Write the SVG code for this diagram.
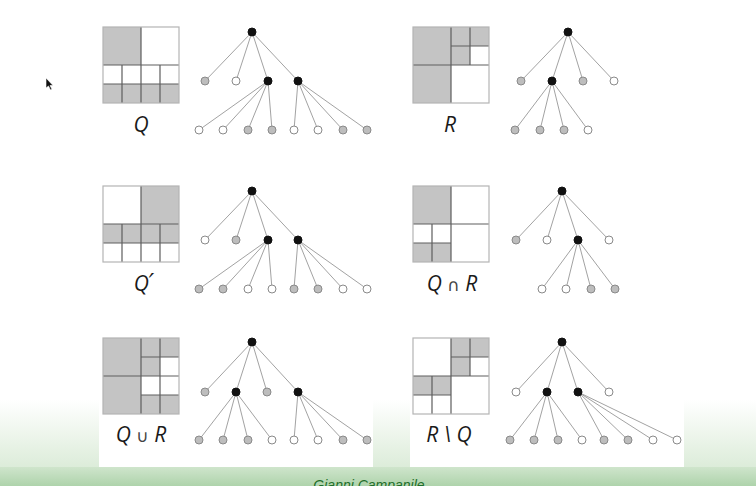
<svg xmlns="http://www.w3.org/2000/svg" width="756" height="486" viewBox="0 0 756 486">
<style>
.e{stroke:#8a8a8a;stroke-width:0.8;fill:none}
.nw{fill:#fff;stroke:#8a8a8a;stroke-width:1}
.ng{fill:#bdbdbd;stroke:#8a8a8a;stroke-width:1}
.nb{fill:#111;stroke:#111;stroke-width:1}
.cg{fill:#c4c4c4}
.cw{fill:#fff}
.gl{stroke:#5e5e5e;stroke-width:1.2;fill:none}
.ob{stroke:#b4b4b4;stroke-width:1.2;fill:none}
.lbl{font-family:"Open Sans","DejaVu Sans",sans-serif;font-style:italic;font-size:21px;fill:#1a1a1a;text-anchor:middle}
.op{font-family:"DejaVu Sans",sans-serif;font-style:normal;font-size:17px;fill:#444}
</style>
<defs>
<linearGradient id="bg" x1="0" y1="0" x2="0" y2="1">
<stop offset="0" stop-color="#ffffff"/>
<stop offset="1" stop-color="#dcecd9"/>
</linearGradient>
<linearGradient id="band" x1="0" y1="0" x2="0" y2="1">
<stop offset="0" stop-color="#cfe5cc"/>
<stop offset="1" stop-color="#aed3ab"/>
</linearGradient>
</defs>
<rect x="0" y="0" width="756" height="486" fill="#fff"/>
<rect x="0" y="400" width="756" height="68" fill="url(#bg)"/>
<rect x="0" y="467" width="756" height="19" fill="url(#band)"/>
<rect x="99" y="320" width="274" height="147" fill="#fff"/>
<rect x="410" y="320" width="274" height="147" fill="#fff"/>
<text x="369" y="490" font-family="Liberation Sans, sans-serif" font-style="italic" font-size="14" fill="#1f6e2a" text-anchor="middle">Gianni Campanile</text>
<polygon points="46,78 46,88 48.5,86 50.5,90 52,89.3 50,85.5 53,85.5" fill="#111" stroke="#fff" stroke-width="0.6"/>

<g id="square-Q">
<rect class="cg" x="103" y="27" width="38" height="38"/>
<rect class="cw" x="141" y="27" width="38" height="38"/>
<rect class="cw" x="103" y="65" width="76" height="19"/>
<rect class="cg" x="103" y="84" width="76" height="19"/>
<path class="gl" d="M141 27V103M103 65H179M103 84H179M122 65V103M160 65V103"/>
<rect class="ob" x="103" y="27" width="76" height="76"/>
<text class="lbl" x="141" y="132">Q</text>
</g>
<g id="square-R">
<rect class="cg" x="413" y="27" width="38" height="76"/>
<rect class="cg" x="451" y="27" width="38" height="38"/>
<rect class="cw" x="470" y="46" width="19" height="19"/>
<rect class="cw" x="451" y="65" width="38" height="38"/>
<path class="gl" d="M451 27V103M413 65H489M470 27V65M451 46H489"/>
<rect class="ob" x="413" y="27" width="76" height="76"/>
<text class="lbl" x="450" y="132">R</text>
</g>
<g id="square-Qp">
<rect class="cw" x="103" y="186" width="38" height="38"/>
<rect class="cg" x="141" y="186" width="38" height="38"/>
<rect class="cg" x="103" y="224" width="76" height="19"/>
<rect class="cw" x="103" y="243" width="76" height="19"/>
<path class="gl" d="M141 186V262M103 224H179M103 243H179M122 224V262M160 224V262"/>
<rect class="ob" x="103" y="186" width="76" height="76"/>
<text class="lbl" x="144" y="291">Q<tspan font-family="DejaVu Sans, sans-serif" font-size="24">′</tspan></text>
</g>
<g id="square-QandR">
<rect class="cg" x="413" y="186" width="38" height="38"/>
<rect class="cw" x="451" y="186" width="38" height="38"/>
<rect class="cw" x="413" y="224" width="38" height="19"/>
<rect class="cg" x="413" y="243" width="38" height="19"/>
<rect class="cw" x="451" y="224" width="38" height="38"/>
<path class="gl" d="M451 186V262M413 224H489M432 224V262M413 243H451"/>
<rect class="ob" x="413" y="186" width="76" height="76"/>
<text class="lbl" x="452" y="291">Q <tspan class="op">∩</tspan> R</text>
</g>
<g id="square-QorR">
<rect class="cg" x="103" y="338" width="76" height="76"/>
<rect class="cw" x="160" y="357" width="19" height="19"/>
<rect class="cw" x="141" y="376" width="38" height="19"/>
<path class="gl" d="M141 338V414M103 376H179M160 338V414M141 357H179M141 395H179"/>
<rect class="ob" x="103" y="338" width="76" height="76"/>
<text class="lbl" x="141" y="442">Q <tspan class="op">∪</tspan> R</text>
</g>
<g id="square-RminusQ">
<rect class="cw" x="413" y="338" width="76" height="76"/>
<rect class="cg" x="451" y="338" width="38" height="19"/>
<rect class="cg" x="451" y="357" width="19" height="19"/>
<rect class="cg" x="413" y="376" width="38" height="19"/>
<path class="gl" d="M451 338V414M413 376H489M470 338V376M451 357H489M432 376V414M413 395H451"/>
<rect class="ob" x="413" y="338" width="76" height="76"/>
<text class="lbl" x="449" y="442">R \ Q</text>
</g>

<g id="connectors">
<path class="e" d="M252 32L205 81M252 32L236 81M252 32L268 81M252 32L298 81M268 81L199 130M268 81L223 130M268 81L248 130M268 81L272 130M298 81L294 130M298 81L318 130M298 81L343 130M298 81L367 130"/>
<path class="e" d="M568 32L521 81M568 32L552 81M568 32L583 81M568 32L614 81M552 81L515 130M552 81L540 130M552 81L564 130M552 81L588 130"/>
<path class="e" d="M252 191L205 240M252 191L236 240M252 191L268 240M252 191L298 240M268 240L199 289M268 240L223 289M268 240L248 289M268 240L272 289M298 240L294 289M298 240L318 289M298 240L343 289M298 240L367 289"/>
<path class="e" d="M562 191L516 240M562 191L547 240M562 191L578 240M562 191L609 240M578 240L542 289M578 240L566 289M578 240L591 289M578 240L615 289"/>
<path class="e" d="M252 342L205 392M252 342L236 392M252 342L267 392M252 342L298 392M236 392L199 440M236 392L223 440M236 392L248 440M236 392L272 440M298 392L294 440M298 392L318 440M298 392L343 440M298 392L367 440"/>
<path class="e" d="M562 342L516 392M562 342L547 392M562 342L578 392M562 342L609 392M547 392L510 440M547 392L534 440M547 392L558 440M547 392L582 440M578 392L604 440M578 392L628 440M578 392L653 440M578 392L677 440"/>
</g>

<g id="tree-Q">
<circle id="q-root" class="nb" cx="252" cy="32" r="4"/>
<circle id="q-a" class="ng" cx="205" cy="81" r="4"/>
<circle id="q-b" class="nw" cx="236" cy="81" r="4"/>
<circle id="q-c" class="nb" cx="268" cy="81" r="4"/>
<circle id="q-d" class="nb" cx="298" cy="81" r="4"/>
<circle id="q-c1" class="nw" cx="199" cy="130" r="4"/>
<circle id="q-c2" class="nw" cx="223" cy="130" r="4"/>
<circle id="q-c3" class="ng" cx="248" cy="130" r="4"/>
<circle id="q-c4" class="ng" cx="272" cy="130" r="4"/>
<circle id="q-d1" class="nw" cx="294" cy="130" r="4"/>
<circle id="q-d2" class="nw" cx="318" cy="130" r="4"/>
<circle id="q-d3" class="ng" cx="343" cy="130" r="4"/>
<circle id="q-d4" class="ng" cx="367" cy="130" r="4"/>
</g>
<g id="tree-R">
<circle id="r-root" class="nb" cx="568" cy="32" r="4"/>
<circle id="r-a" class="ng" cx="521" cy="81" r="4"/>
<circle id="r-b" class="nb" cx="552" cy="81" r="4"/>
<circle id="r-c" class="ng" cx="583" cy="81" r="4"/>
<circle id="r-d" class="nw" cx="614" cy="81" r="4"/>
<circle id="r-b1" class="ng" cx="515" cy="130" r="4"/>
<circle id="r-b2" class="ng" cx="540" cy="130" r="4"/>
<circle id="r-b3" class="ng" cx="564" cy="130" r="4"/>
<circle id="r-b4" class="nw" cx="588" cy="130" r="4"/>
</g>
<g id="tree-Qp">
<circle id="qp-root" class="nb" cx="252" cy="191" r="4"/>
<circle id="qp-a" class="nw" cx="205" cy="240" r="4"/>
<circle id="qp-b" class="ng" cx="236" cy="240" r="4"/>
<circle id="qp-c" class="nb" cx="268" cy="240" r="4"/>
<circle id="qp-d" class="nb" cx="298" cy="240" r="4"/>
<circle id="qp-c1" class="ng" cx="199" cy="289" r="4"/>
<circle id="qp-c2" class="ng" cx="223" cy="289" r="4"/>
<circle id="qp-c3" class="nw" cx="248" cy="289" r="4"/>
<circle id="qp-c4" class="nw" cx="272" cy="289" r="4"/>
<circle id="qp-d1" class="ng" cx="294" cy="289" r="4"/>
<circle id="qp-d2" class="ng" cx="318" cy="289" r="4"/>
<circle id="qp-d3" class="nw" cx="343" cy="289" r="4"/>
<circle id="qp-d4" class="nw" cx="367" cy="289" r="4"/>
</g>
<g id="tree-QandR">
<circle id="qr-root" class="nb" cx="562" cy="191" r="4"/>
<circle id="qr-a" class="ng" cx="516" cy="240" r="4"/>
<circle id="qr-b" class="nw" cx="547" cy="240" r="4"/>
<circle id="qr-c" class="nb" cx="578" cy="240" r="4"/>
<circle id="qr-d" class="nw" cx="609" cy="240" r="4"/>
<circle id="qr-c1" class="nw" cx="542" cy="289" r="4"/>
<circle id="qr-c2" class="nw" cx="566" cy="289" r="4"/>
<circle id="qr-c3" class="ng" cx="591" cy="289" r="4"/>
<circle id="qr-c4" class="ng" cx="615" cy="289" r="4"/>
</g>
<g id="tree-QorR">
<circle id="qu-root" class="nb" cx="252" cy="342" r="4"/>
<circle id="qu-a" class="ng" cx="205" cy="392" r="4"/>
<circle id="qu-b" class="nb" cx="236" cy="392" r="4"/>
<circle id="qu-c" class="ng" cx="267" cy="392" r="4"/>
<circle id="qu-d" class="nb" cx="298" cy="392" r="4"/>
<circle id="qu-b1" class="ng" cx="199" cy="440" r="4"/>
<circle id="qu-b2" class="ng" cx="223" cy="440" r="4"/>
<circle id="qu-b3" class="ng" cx="248" cy="440" r="4"/>
<circle id="qu-b4" class="nw" cx="272" cy="440" r="4"/>
<circle id="qu-d1" class="nw" cx="294" cy="440" r="4"/>
<circle id="qu-d2" class="nw" cx="318" cy="440" r="4"/>
<circle id="qu-d3" class="ng" cx="343" cy="440" r="4"/>
<circle id="qu-d4" class="ng" cx="367" cy="440" r="4"/>
</g>
<g id="tree-RminusQ">
<circle id="rm-root" class="nb" cx="562" cy="342" r="4"/>
<circle id="rm-a" class="nw" cx="516" cy="392" r="4"/>
<circle id="rm-b" class="nb" cx="547" cy="392" r="4"/>
<circle id="rm-c" class="nb" cx="578" cy="392" r="4"/>
<circle id="rm-d" class="nw" cx="609" cy="392" r="4"/>
<circle id="rm-b1" class="ng" cx="510" cy="440" r="4"/>
<circle id="rm-b2" class="ng" cx="534" cy="440" r="4"/>
<circle id="rm-b3" class="ng" cx="558" cy="440" r="4"/>
<circle id="rm-b4" class="nw" cx="582" cy="440" r="4"/>
<circle id="rm-c1" class="ng" cx="604" cy="440" r="4"/>
<circle id="rm-c2" class="ng" cx="628" cy="440" r="4"/>
<circle id="rm-c3" class="nw" cx="653" cy="440" r="4"/>
<circle id="rm-c4" class="nw" cx="677" cy="440" r="4"/>
</g>
</svg>
